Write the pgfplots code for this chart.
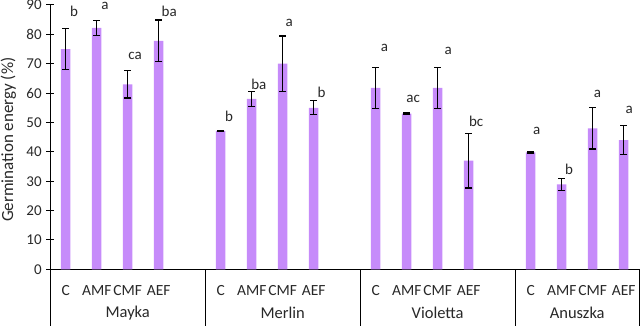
\documentclass[border=0pt]{standalone}
\usepackage{fontspec}
\setmainfont{Carlito}
\usepackage{pgfplots}
\pgfplotsset{compat=1.18}
\definecolor{barpurple}{RGB}{198,139,250}
\definecolor{txt}{RGB}{40,40,40}

\begin{document}
\begin{tikzpicture}
\begin{axis}[
    name=ax,
    scale only axis,
    width=589pt, height=264.3pt,
    xmin=-0.5, xmax=18.5,
    ymin=0, ymax=90,
    ybar, bar width=9.5pt,
    axis x line*=bottom, axis y line*=left,
    axis line style={line width=1pt, black},
    ytick={0,10,...,90},
    xtick={0,1,2,3,5,6,7,8,10,11,12,13,15,16,17,18},
    xticklabels={C,AMF,CMF,AEF,C,AMF,CMF,AEF,C,AMF,CMF,AEF,C,AMF,CMF,AEF},
    x tick style={draw=none},
    y tick style={line width=1pt, black},
    tick align=center,
    major tick length=8pt,
    /pgf/number format/assume math mode=true,
    yticklabel style={font=\fontsize{15}{17}\selectfont, text=txt, xshift=-1pt},
    xticklabel style={font=\fontsize{15.5}{17}\selectfont, text=txt, anchor=center, yshift=-17.4pt},
    ylabel={Germination energy (\%)},
    ylabel style={at={(axis description cs:-0.0709,0.49)}, anchor=center,
        font=\fontsize{17}{19}\selectfont, text=txt},
    clip=false,
]

\addplot[fill=barpurple, draw=none,
    error bars/.cd, y dir=both, y explicit,
    error bar style={line width=1.3pt, black},
    error mark options={rotate=90, mark size=3.6pt, line width=1.3pt, black}]
    table[x=x, y=y, y error=e, row sep=crcr] {
    x y e \\
    0 75 7 \\
    1 82.2 2.5 \\
    2 63 4.7 \\
    3 77.8 7.1 \\
    5 47.1 0.2 \\
    6 58 2.5 \\
    7 70 9.4 \\
    8 55 2.4 \\
    10 61.8 7 \\
    11 53 0.2 \\
    12 61.8 7 \\
    13 37 9.3 \\
    15 39.8 0.2 \\
    16 28.9 2 \\
    17 48 7 \\
    18 44 5 \\
};

% significance letters
\begin{scope}[every node/.style={font=\fontsize{15}{17}\selectfont, text=txt}]
\node at (axis cs:0.27,88) {b};
\node at (axis cs:1.27,89.6) {a};
\node at (axis cs:2.24,72.7) {ca};
\node at (axis cs:3.34,87.7) {ba};
\node at (axis cs:5.27,52) {b};
\node at (axis cs:6.23,63.1) {ba};
\node at (axis cs:7.21,83.8) {a};
\node at (axis cs:8.25,60.3) {b};
\node at (axis cs:10.28,75.5) {a};
\node at (axis cs:11.21,58) {ac};
\node at (axis cs:12.34,74.4) {a};
\node at (axis cs:13.24,50.5) {bc};
\node at (axis cs:15.19,47.2) {a};
\node at (axis cs:16.24,34.2) {b};
\node at (axis cs:17.15,59.7) {a};
\node at (axis cs:18.18,54.2) {a};
\end{scope}

% group separators and names
\draw[line width=0.9pt, black] (axis cs:-0.5,0) -- ([yshift=-60pt]axis cs:-0.5,0);
\draw[line width=0.9pt, black] (axis cs:4.5,0) -- ([yshift=-60pt]axis cs:4.5,0);
\draw[line width=0.9pt, black] (axis cs:9.5,0) -- ([yshift=-60pt]axis cs:9.5,0);
\draw[line width=0.9pt, black] (axis cs:14.5,0) -- ([yshift=-60pt]axis cs:14.5,0);
\draw[line width=0.9pt, black] (axis cs:18.5,0) -- ([yshift=-60pt]axis cs:18.5,0);
\begin{scope}[every node/.style={font=\fontsize{16.5}{18}\selectfont, text=txt}]
\node at ([yshift=-43.7pt]axis cs:2,0) {Mayka};
\node at ([yshift=-43.7pt]axis cs:7,0) {Merlin};
\node at ([yshift=-43.7pt]axis cs:12,0) {Violetta};
\node at ([yshift=-43.7pt]axis cs:16.5,0) {Anuszka};
\end{scope}
\end{axis}
\pgfresetboundingbox
\useasboundingbox ([xshift=-50.2pt,yshift=-56.7pt]ax.south west) rectangle ([xshift=0.8pt,yshift=5pt]ax.north east);
\end{tikzpicture}
\end{document}
